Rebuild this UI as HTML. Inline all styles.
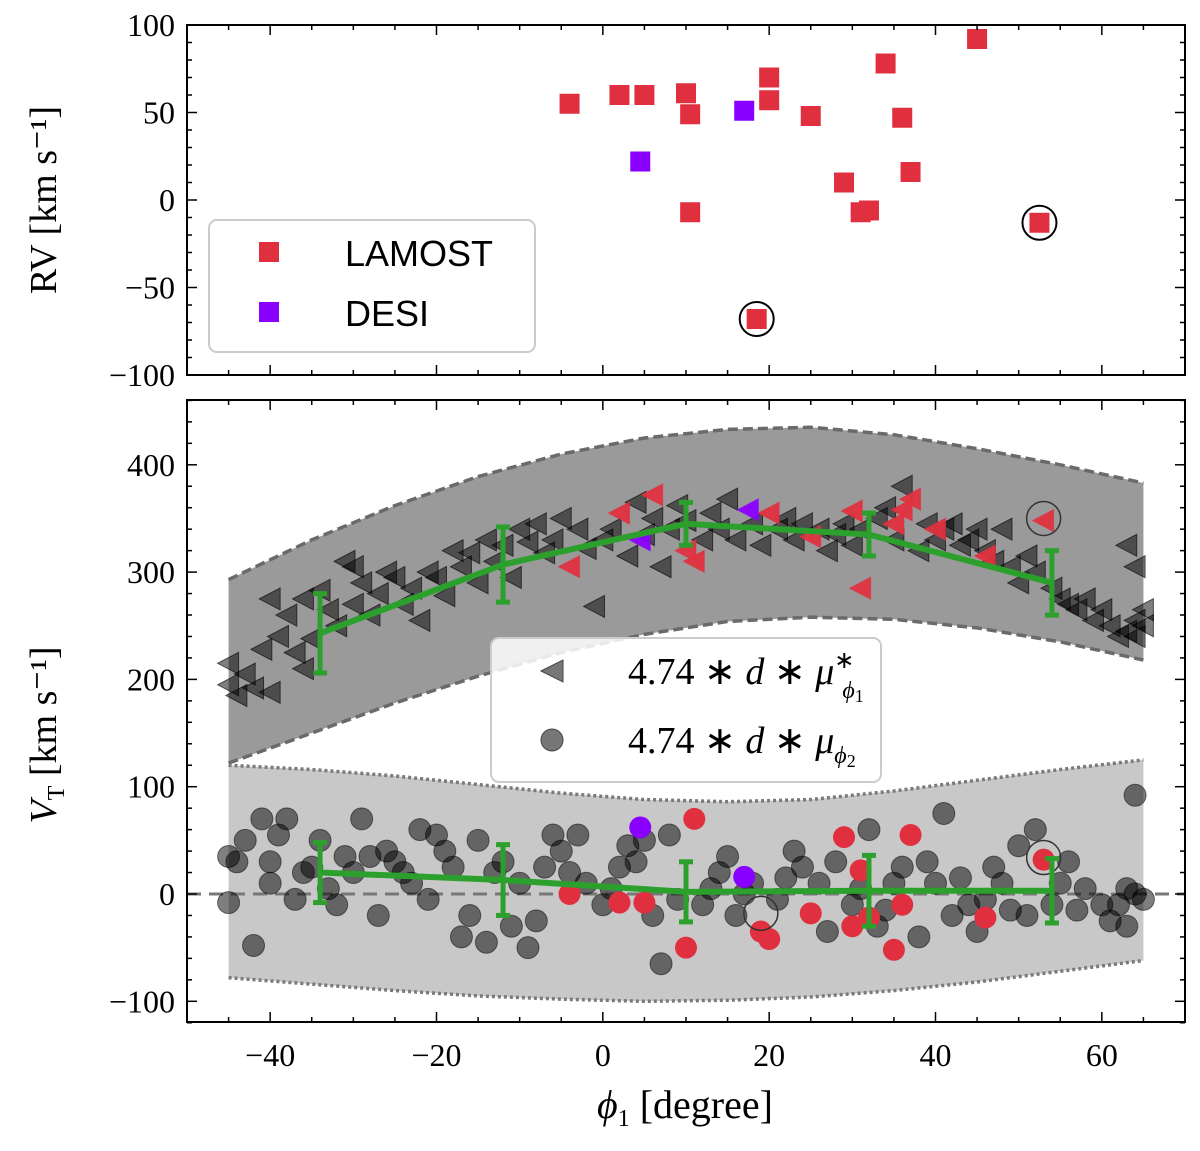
<!DOCTYPE html>
<html><head><meta charset="utf-8"><style>
body{margin:0;background:#fff;width:1200px;height:1146px;overflow:hidden}
svg text{font-family:"Liberation Serif",serif;fill:#000}
</style></head><body>
<svg id="chart" width="1200" height="1146" xmlns="http://www.w3.org/2000/svg"></svg>
<script>
// ---- data ----
const rvLamost = [[-4,55],[2,60],[5,60],[10,61],[10.5,49],[20,70],[20,57],[25,48],[34,78],[36,47],[45,92],[29,10],[37,16],[31,-7],[32,-6],[10.5,-7],[52.5,-13],[18.5,-68]];
const rvDesi = [[4.5,22],[17,51]];
const rvCircled = [[18.5,-68],[52.5,-13]];
const bandPhi = [-45,-35,-25,-15,-5,5,15,25,35,45,55,65];
const darkUpper = [293,330,362,389,410,425,433,435,428,415,400,383];
const darkLower = [122,150,178,203,225,242,254,258,256,248,235,218];
const lightUpper = [120,116,110,102,94,88,86,88,96,106,116,125];
const lightLower = [-78,-84,-90,-95,-98,-100,-99,-96,-90,-82,-72,-62];
const binPhi = [-34,-12,10,32,54];
const mu1Med = [243,307,345,335,290];
const mu1Err = [37,35,20,20,30];
const mu2Med = [20,13,2,3,3];
const mu2Err = [28,33,28,33,30];
const triBlack = [[-45,215],[-45,195],[-44,185],[-43,205],[-42,192],[-40,188],[-41,228],[-40,275],[-39,240],[-38,260],[-37,225],[-36,210],[-36,275],[-35,238],[-34,283],[-33,265],[-32,250],[-31,310],[-30,305],[-30,270],[-29,290],[-28,260],[-27,280],[-26,300],[-25,295],[-24,270],[-23,285],[-22,255],[-21,300],[-20,295],[-19,278],[-18,320],[-17,305],[-16,318],[-15,290],[-14,330],[-13,310],[-12,325],[-11,295],[-10,340],[-9,328],[-8,345],[-7,318],[-6,330],[-5,350],[-3,340],[-2,322],[-1,268],[0,330],[1,340],[3,315],[4,365],[5,335],[6,350],[7,305],[8,340],[9,362],[10,348],[12,330],[13,355],[14,340],[15,368],[16,330],[18,345],[19,325],[21,340],[22,350],[23,330],[24,345],[26,340],[27,320],[28,335],[29,345],[30,325],[31,340],[33,350],[34,360],[35,330],[36,380],[38,320],[39,345],[40,330],[41,340],[42,345],[43,325],[44,330],[45,340],[46,320],[47,310],[48,340],[49,305],[50,290],[51,315],[52,300],[54,285],[55,275],[56,270],[57,265],[58,275],[59,255],[60,265],[61,250],[62,240],[63,325],[63,245],[64,240],[64,255],[65,250],[65,265],[64,305]];
const triRed = [[-4,305],[2,355],[6,372],[10,320],[11,310],[20,355],[25,333],[30,357],[31,285],[35,345],[37,368],[36,358],[40,340],[46,315],[53,348]];
const triPurple = [[4.5,330],[17.5,358]];
const circBlack = [[-45,35],[-45,-8],[-44,30],[-43,50],[-42,-48],[-41,70],[-40,10],[-40,30],[-39,55],[-38,70],[-37,-5],[-36,20],[-35,25],[-34,50],[-33,5],[-32,-10],[-31,35],[-30,20],[-29,70],[-28,35],[-27,-20],[-26,40],[-25,30],[-24,20],[-23,10],[-22,60],[-21,-5],[-20,55],[-19,40],[-18,25],[-17,-40],[-16,-20],[-15,50],[-14,-45],[-13,20],[-12,30],[-11,-30],[-10,10],[-9,-50],[-8,-25],[-7,25],[-6,55],[-5,40],[-4,20],[-3,55],[-2,10],[0,-10],[1,5],[2,25],[3,45],[4,30],[5,50],[6,-20],[7,-65],[8,55],[9,-5],[12,-10],[13,5],[14,20],[15,35],[16,-20],[17,0],[18,10],[21,-5],[22,15],[23,40],[24,25],[26,10],[27,-35],[28,30],[30,-10],[31,5],[32,60],[33,-30],[34,-15],[35,10],[36,25],[38,-40],[39,30],[40,10],[41,75],[42,-20],[43,15],[44,-10],[45,-35],[46,-5],[47,25],[48,10],[49,-15],[50,45],[51,-20],[52,60],[54,-10],[55,10],[56,30],[57,-15],[58,5],[60,-10],[61,-25],[62,-10],[63,-30],[63,5],[64,92],[64,0],[65,-5]];
const circRed = [[-4,0],[2,-8],[5,-8],[10,-50],[11,70],[19,-35],[20,-42],[25,-18],[30,-30],[29,53],[31,22],[32,-22],[35,-52],[36,-10],[37,55],[46,-22],[53,32]];
const circPurple = [[4.5,62],[17,16]];
const vtCircled = [[53,350],[53,34],[19,-18]];
const xTicks = [-40,-20,0,20,40,60];
const rvTicks = [-100,-50,0,50,100];
const vtTicks = [-100,0,100,200,300,400];

// ---- scales ----
const L=187,R=1185;
const X=v=>L+(v+50)*(R-L)/120;
const T1=25,B1=375, Y1=v=>T1+(100-v)*(B1-T1)/200;
const T2=400,B2=1022, Y2=v=>894-v*1.073;
const svg=document.getElementById('chart');
const NS='http://www.w3.org/2000/svg';
function mk(tag,attrs,parent){const e=document.createElementNS(NS,tag);for(const k in attrs)e.setAttribute(k,attrs[k]);(parent||svg).appendChild(e);return e;}
const RED='#e0303f',PUR='#8a00ff';

function bandPath(up,lo){let d='M'+bandPhi.map((p,i)=>X(p)+','+Y2(up[i])).join('L');for(let i=bandPhi.length-1;i>=0;i--)d+='L'+X(bandPhi[i])+','+Y2(lo[i]);return d+'Z';}
function linePath(arr){return 'M'+bandPhi.map((p,i)=>X(p)+','+Y2(arr[i])).join('L');}
let e;
e=mk('path',{d:bandPath(lightUpper,lightLower),fill:'#c8c8c8'});

e=mk('path',{d:bandPath(darkUpper,darkLower),fill:'#9a9a9a'});

[darkUpper,darkLower].forEach(a=>mk('path',{d:linePath(a),fill:'none',stroke:'#6a6a6a','stroke-width':3.5,'stroke-dasharray':'10,5'}));
[lightUpper,lightLower].forEach(a=>mk('path',{d:linePath(a),fill:'none',stroke:'#7a7a7a','stroke-width':3.5,'stroke-dasharray':'3,3'}));
mk('line',{x1:L,x2:R,y1:Y2(0),y2:Y2(0),stroke:'#777','stroke-width':3,'stroke-dasharray':'14,8'});

function tri(x,y,fill,op,name){e=mk('path',{d:`M${x-11},${y}L${x+10},${y-11}L${x+10},${y+11}Z`,fill:fill,'fill-opacity':op,stroke:fill==='#000'?'#000':fill,'stroke-opacity':0.6,'stroke-width':1});
}
function circ(x,y,fill,op,name){e=mk('circle',{cx:x,cy:y,r:11,fill:fill,'fill-opacity':op,stroke:'#000','stroke-opacity':0.5,'stroke-width':1});
}
triBlack.forEach(p=>tri(X(p[0]),Y2(p[1]),'#000',0.5,'mu1-point'));
circBlack.forEach(p=>circ(X(p[0]),Y2(p[1]),'#000',0.5,'mu2-point'));
triRed.forEach(p=>tri(X(p[0]),Y2(p[1]),RED,0.95,'mu1-lamost-point'));
triPurple.forEach(p=>tri(X(p[0]),Y2(p[1]),PUR,0.95,'mu1-desi-point'));
circRed.forEach(p=>{e=mk('circle',{cx:X(p[0]),cy:Y2(p[1]),r:11,fill:RED});});
circPurple.forEach(p=>{e=mk('circle',{cx:X(p[0]),cy:Y2(p[1]),r:11,fill:PUR});});
vtCircled.forEach(p=>{e=mk('circle',{cx:X(p[0]),cy:Y2(p[1]),r:17,fill:'none',stroke:'#333','stroke-width':1.5});});

function medLine(med,err,name){
 e=mk('polyline',{points:binPhi.map((p,i)=>X(p)+','+Y2(med[i])).join(' '),fill:'none',stroke:'#2ca02c','stroke-width':6});
 
 binPhi.forEach((p,i)=>{const x=X(p);mk('line',{x1:x,x2:x,y1:Y2(med[i]-err[i]),y2:Y2(med[i]+err[i]),stroke:'#2ca02c','stroke-width':5});
  [med[i]-err[i],med[i]+err[i]].forEach(v=>mk('line',{x1:x-7,x2:x+7,y1:Y2(v),y2:Y2(v),stroke:'#2ca02c','stroke-width':5}));});
}
medLine(mu1Med,mu1Err,'mu1-median-line');
medLine(mu2Med,mu2Err,'mu2-median-line');

rvLamost.forEach(p=>{e=mk('rect',{x:X(p[0])-10,y:Y1(p[1])-10,width:20,height:20,fill:RED});});
rvDesi.forEach(p=>{e=mk('rect',{x:X(p[0])-10,y:Y1(p[1])-10,width:20,height:20,fill:PUR});});
rvCircled.forEach(p=>{e=mk('circle',{cx:X(p[0]),cy:Y1(p[1]),r:17,fill:'none',stroke:'#000','stroke-width':2});});

function frame(T,B,Yf,yt,minorStep,ymin,ymax,name){
 e=mk('rect',{x:L,y:T,width:R-L,height:B-T,fill:'none',stroke:'#000','stroke-width':2});
 
 for(let v=-50;v<=70;v+=5){const x=X(v),len=v%20===0?10:5;mk('line',{x1:x,x2:x,y1:B,y2:B-len,stroke:'#000','stroke-width':1.5});mk('line',{x1:x,x2:x,y1:T,y2:T+len,stroke:'#000','stroke-width':1.5});}
 for(let v=ymin;v<=ymax;v+=minorStep){const y=Yf(v);if(y<T-1||y>B+1)continue;const len=yt.includes(v)?10:5;mk('line',{x1:L,x2:L+len,y1:y,y2:y,stroke:'#000','stroke-width':1.5});mk('line',{x1:R,x2:R-len,y1:y,y2:y,stroke:'#000','stroke-width':1.5});}
 yt.forEach(v=>{e=mk('text',{x:L-12,y:Yf(v)+11,'text-anchor':'end','font-size':32});e.textContent=(v<0?'\u2212'+(-v):v);});
}
frame(T1,B1,Y1,rvTicks,10,-100,100,'rv-panel');
frame(T2,B2,Y2,vtTicks,20,-120,460,'vt-panel');
xTicks.forEach(v=>{e=mk('text',{x:X(v),y:1066,'text-anchor':'middle','font-size':32});e.textContent=(v<0?'\u2212'+(-v):v);});

e=mk('rect',{x:209,y:220,width:326,height:132,rx:8,fill:'#fff','fill-opacity':0.85,stroke:'#ccc','stroke-width':2});

mk('rect',{x:259,y:242,width:20,height:20,fill:RED});mk('rect',{x:259,y:302,width:20,height:20,fill:PUR});
e=mk('text',{x:345,y:266,'font-size':36,style:'font-family:"Liberation Sans",sans-serif'});e.textContent='LAMOST';
e=mk('text',{x:345,y:326,'font-size':36,style:'font-family:"Liberation Sans",sans-serif'});e.textContent='DESI';

e=mk('rect',{x:491,y:638,width:390,height:144,rx:8,fill:'#fff','fill-opacity':0.85,stroke:'#ccc','stroke-width':2});

mk('path',{d:'M541,671L563,660L563,682Z',fill:'#777',stroke:'#444'});
mk('circle',{cx:552,cy:740,r:11,fill:'#777',stroke:'#444'});
e=mk('text',{x:628,y:684,'font-size':38});e.innerHTML='4.74 ∗ <tspan font-style="italic">d</tspan> ∗ <tspan font-style="italic">μ</tspan><tspan font-size="24" dy="-16">∗</tspan><tspan font-size="24" font-style="italic" dx="-12" dy="30">ϕ</tspan><tspan font-size="18" dy="4">1</tspan>';

e=mk('text',{x:628,y:753,'font-size':38});e.innerHTML='4.74 ∗ <tspan font-style="italic">d</tspan> ∗ <tspan font-style="italic">μ</tspan><tspan font-size="24" font-style="italic" dy="10">ϕ</tspan><tspan font-size="18" dy="4">2</tspan>';


e=mk('text',{x:0,y:0,'font-size':38,'text-anchor':'middle',transform:'translate(56,200) rotate(-90)'});e.textContent='RV [km s\u207B\u00B9]';

e=mk('text',{x:0,y:0,'font-size':38,'text-anchor':'middle',transform:'translate(56,735) rotate(-90)'});e.innerHTML='<tspan font-style="italic">V</tspan><tspan font-size="24" dy="8">T</tspan><tspan dy="-8"> [km s\u207B\u00B9]</tspan>';

e=mk('text',{x:685,y:1118,'font-size':40,'text-anchor':'middle'});e.innerHTML='<tspan font-style="italic">ϕ</tspan><tspan font-size="24" dy="8">1</tspan><tspan dy="-8"> [degree]</tspan>';

</script>
</body></html>
